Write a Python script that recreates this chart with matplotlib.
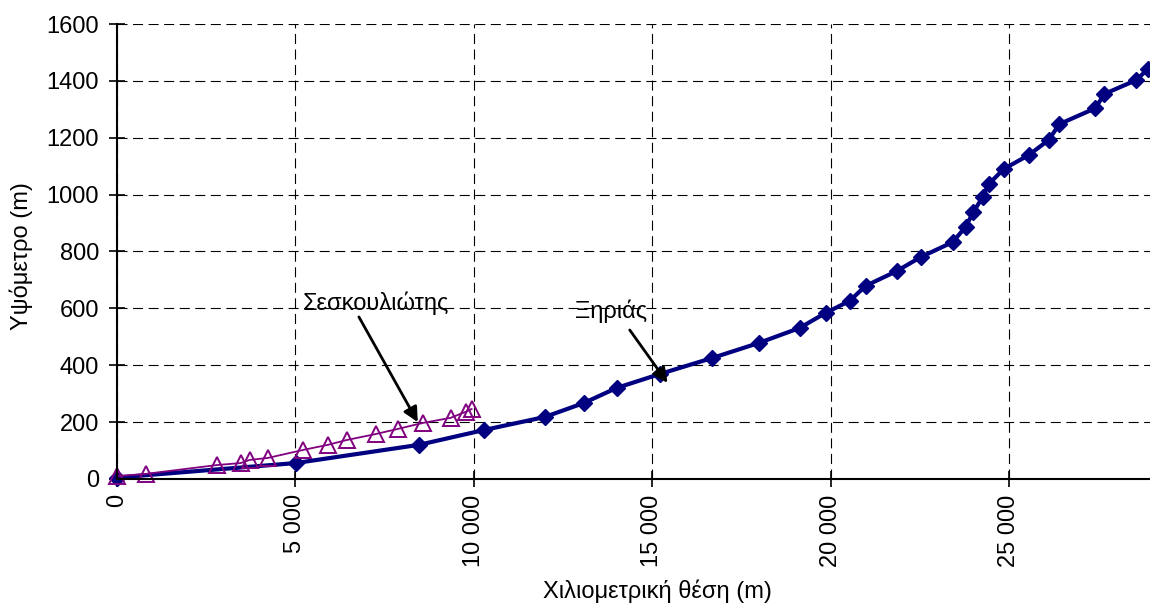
import matplotlib
matplotlib.use("Agg")
import matplotlib.pyplot as plt
from matplotlib.ticker import FuncFormatter

# Ξηριάς profile (chainage m, elevation m)
xirias_x = [0, 5010, 8460, 10280, 11990, 13080, 14000, 15210, 16670, 17980,
            19130, 19860, 20530, 20980, 21850, 22520, 23420, 23780, 24000,
            24260, 24430, 24850, 25550, 26110, 26410, 27420, 27670, 28570, 28880]
xirias_y = [5, 56, 120, 172, 218, 267, 320, 369, 425, 478,
            531, 584, 626, 679, 731, 780, 833, 886, 939,
            991, 1037, 1090, 1139, 1192, 1248, 1304, 1354, 1403, 1441]

# Σεσκουλιώτης profile
sesk_x = [0, 810, 2800, 3470, 3720, 4230, 5210, 5910, 6440, 7250,
          7870, 8570, 9350, 9770, 9940]
sesk_y = [10, 18, 49, 56, 67, 74, 102, 120, 137, 158,
          176, 197, 215, 236, 246]

plt.rcParams['font.family'] = ['Liberation Sans', 'DejaVu Sans']
FS = 17

fig = plt.figure(figsize=(11.5, 6.05), dpi=100)
ax = fig.add_axes([0.1017, 0.2083, 0.8983, 0.752])

ax.plot(xirias_x, xirias_y, color='#000080', lw=3, marker='D', markersize=8.5,
        zorder=3, clip_on=False)
ax.plot(sesk_x, sesk_y, color='#800080', lw=1.3, marker='^', markersize=11,
        markerfacecolor='none', markeredgewidth=1.4, zorder=4, clip_on=False)

ax.set_xlim(0, 28950)
ax.set_ylim(0, 1600)
ax.set_xticks(range(0, 28000, 5000))
ax.set_yticks(range(0, 1601, 200))
ax.xaxis.set_major_formatter(FuncFormatter(lambda v, p: f"{int(v):,}".replace(",", " ")))
ax.tick_params(axis='x', labelrotation=90, direction='inout', length=12, width=1.2,
               labelsize=FS, pad=5)
ax.tick_params(axis='y', direction='inout', length=12, width=1.2, labelsize=FS, pad=7)

ax.grid(True, color='black', linestyle=(0, (9, 5)), lw=0.8)
for s in ['top', 'right']:
    ax.spines[s].set_visible(False)
for s in ['left', 'bottom']:
    ax.spines[s].set_linewidth(1.5)
    ax.spines[s].set_zorder(5)

ax.set_xlabel('Χιλιομετρική θέση (m)', fontsize=FS)
ax.xaxis.set_label_coords(0.523, -0.222)
ax.set_ylabel('Υψόμετρο (m)', fontsize=FS)
ax.yaxis.set_label_coords(-0.081, 0.49)

# labels with arrows
arrow = dict(arrowstyle='-|>', color='black', lw=2, mutation_scale=22,
             shrinkA=0, shrinkB=0)
ax.text(7250, 619, 'Σεσκουλιώτης', fontsize=FS, ha='center', va='center')
ax.annotate('', xy=(8430, 200), xytext=(6780, 570), arrowprops=arrow)
ax.text(13840, 591, 'Ξηριάς', fontsize=FS, ha='center', va='center')
ax.annotate('', xy=(15430, 338), xytext=(14370, 524), arrowprops=arrow)

fig.savefig('out.png', dpi=100)
